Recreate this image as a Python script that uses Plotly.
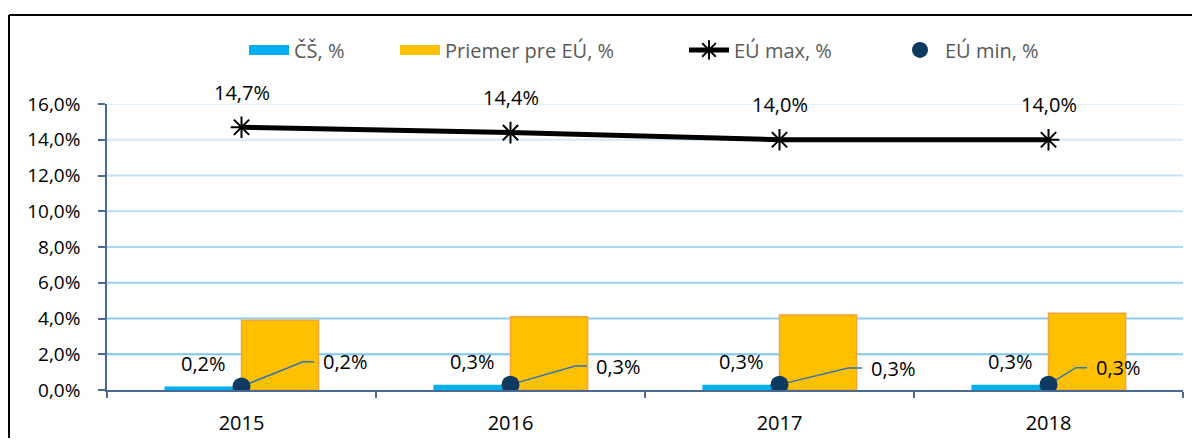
import plotly.graph_objects as go

years = ["2015", "2016", "2017", "2018"]
cs_vals = [0.2, 0.3, 0.3, 0.3]
eu_avg = [3.9, 4.1, 4.2, 4.3]
eu_max = [14.7, 14.4, 14.0, 14.0]
eu_min = [0.2, 0.3, 0.3, 0.3]
y_ticks = [0, 2, 4, 6, 8, 10, 12, 14, 16]

# leader-line offsets for EU min labels (category units, % units)
lead_dx1 = [0.229, 0.24, 0.255, 0.102]
lead_dy = [1.38, 1.04, 0.93, 0.95]
lead_dx2 = [0.041, 0.045, 0.052, 0.041]

# page body has an 8px margin on every side, so the figure is kept smaller than the window
W, H = 1184, 430
ML, MR, MT, MB = 99, 9, 96, 48
PW, PH = W - ML - MR, H - MT - MB

FONT = "Open Sans"
AX = "#4A6A94"
C_CS = "#00B0F0"
C_AVG = "#FFC000"
C_MIN = "#0E3A5F"

def fmt(v):
    return f"{v:.1f}".replace(".", ",") + "%"

xs = list(range(len(years)))
fig = go.Figure()
fig.add_trace(go.Bar(x=xs, y=cs_vals, name="ČŠ, %", marker=dict(color=C_CS, line=dict(width=0)),
                     showlegend=False))
fig.add_trace(go.Bar(x=xs, y=eu_avg, name="Priemer pre EÚ, %",
                     marker=dict(color=C_AVG, line=dict(color="#F4A33C", width=1.5)),
                     showlegend=False))
fig.add_trace(go.Scatter(x=xs, y=eu_max, name="EÚ max, %", mode="lines+markers",
                         line=dict(color="black", width=5),
                         marker=dict(symbol="asterisk-open", size=18, color="black",
                                     line=dict(color="black", width=2)),
                         legend="legend3"))
# leader lines
for i, v in enumerate(eu_min):
    fig.add_trace(go.Scatter(x=[i, i + lead_dx1[i], i + lead_dx1[i] + lead_dx2[i]],
                             y=[v, v + lead_dy[i], v + lead_dy[i]], mode="lines",
                             line=dict(color="#2E75B6", width=1.5), showlegend=False,
                             hoverinfo="skip"))
fig.add_trace(go.Scatter(x=xs, y=eu_min, name="EÚ min, %", mode="markers",
                         marker=dict(symbol="circle", size=18, color=C_MIN),
                         legend="legend4"))
# legend entries for the bars (wide colour swatches)
fig.add_trace(go.Scatter(x=[None], y=[None], mode="lines", name="ČŠ, %",
                         line=dict(color=C_CS, width=15), legend="legend"))
fig.add_trace(go.Scatter(x=[None], y=[None], mode="lines", name="Priemer pre EÚ, %",
                         line=dict(color=C_AVG, width=15), legend="legend2"))

ann = []
for i, v in enumerate(eu_max):
    ann.append(dict(x=i, y=v, text=fmt(v), showarrow=False, yshift=35, yanchor="middle",
                    xanchor="center", font=dict(size=20, color="black", family=FONT)))
for i, v in enumerate(cs_vals):
    ann.append(dict(x=i - 0.143, y=v, text=fmt(v), showarrow=False, yshift=23, yanchor="middle",
                    xanchor="center", font=dict(size=20, color="black", family=FONT)))
for i, v in enumerate(eu_min):
    ann.append(dict(x=i + lead_dx1[i] + lead_dx2[i] + 0.026, y=v + lead_dy[i], text=fmt(v),
                    showarrow=False, yanchor="middle", xanchor="left",
                    font=dict(size=20, color="black", family=FONT)))

shapes = []
c_lo = (0x7F, 0xC6, 0xF0)
c_hi = (0xE2, 0xF1, 0xFB)
for t in y_ticks[1:]:
    f = (t - 2) / 14
    c = tuple(int(c_lo[k] + (c_hi[k] - c_lo[k]) * f) for k in range(3))
    shapes.append(dict(type="line", xref="paper", yref="y", x0=0, x1=1, y0=t, y1=t,
                       line=dict(color="rgb(%d,%d,%d)" % c, width=2), layer="below"))
# outer frame: left and top edges (figure x=1, y=6)
fx0 = (1 - ML) / PW
fy1 = (H - MB - 7) / PH
shapes.append(dict(type="line", xref="paper", yref="paper", x0=fx0, x1=fx0,
                   y0=-(MB + 20) / PH, y1=fy1, line=dict(color="black", width=2)))
shapes.append(dict(type="line", xref="paper", yref="paper", x0=fx0, x1=(W + 50 - ML) / PW,
                   y0=fy1, y1=fy1, line=dict(color="black", width=2)))

leg_common = dict(orientation="h", y=1.189, yanchor="middle", xanchor="left", itemwidth=40,
                  font=dict(size=20, color="#595959", family=FONT), bgcolor="rgba(0,0,0,0)")
fig.update_layout(
    width=W, height=H, margin=dict(l=ML, r=MR, t=MT, b=MB, autoexpand=False),
    paper_bgcolor="white", plot_bgcolor="white",
    barmode="group", bargap=0.427, bargroupgap=0,
    separators=", ",
    font=dict(family=FONT, size=19, color="black"),
    legend=dict(x=(244 - 107) / PW, **leg_common),
    legend2=dict(x=(395 - 107) / PW, **leg_common),
    legend3=dict(x=(684 - 107) / PW, **leg_common),
    legend4=dict(x=(895 - 107) / PW, **leg_common),
    annotations=ann, shapes=shapes, showlegend=True,
)
fig.update_xaxes(range=[-0.5, 3.5], tickvals=xs, ticktext=years, showgrid=False,
                 showline=True, linecolor=AX, linewidth=1.5, ticks="outside", ticklen=0,
                 ticklabelstandoff=14, zeroline=False, automargin=False,
                 minor=dict(tickvals=[-0.5, 0.5, 1.5, 2.5, 3.5], ticks="outside", ticklen=6,
                            tickcolor=AX, tickwidth=1.5, showgrid=False),
                 tickfont=dict(size=20, family=FONT, color="black"))
fig.update_yaxes(range=[0, 16], tickvals=y_ticks, ticktext=[fmt(t) for t in y_ticks],
                 showgrid=False, showline=True, linecolor=AX, linewidth=1.5, zeroline=False,
                 ticks="outside", ticklen=7, tickcolor=AX, tickwidth=1.5, automargin=False,
                 ticklabelstandoff=14, tickfont=dict(size=19, family=FONT, color="black"))

fig.write_html("out.html")
